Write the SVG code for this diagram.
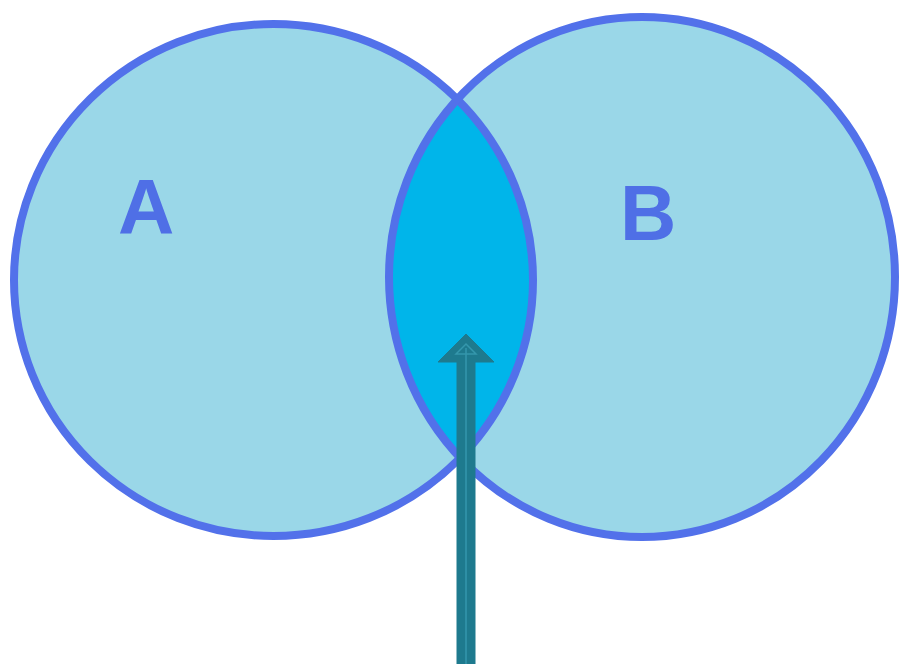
<svg xmlns="http://www.w3.org/2000/svg" width="899" height="664" viewBox="0 0 899 664">
<style>
.fill{fill:#9AD7E8;stroke:none}
.ring{fill:none;stroke:#5271EA;stroke-width:8}
.lbl{font-family:"Liberation Sans",Arial,sans-serif;font-weight:bold;font-size:78px;fill:#4F6FE6}
</style>
<defs>
<clipPath id="clipA"><ellipse cx="273.5" cy="280" rx="259.5" ry="256"/></clipPath>
</defs>
<rect width="899" height="664" fill="#ffffff"/>
<g id="nodeA">
<ellipse class="fill" cx="273.5" cy="280" rx="259.5" ry="256"/>
</g>
<g id="nodeB">
<ellipse class="fill" cx="642" cy="277" rx="253" ry="260"/>
</g>
<g id="intersection">
<ellipse cx="642" cy="277" rx="253" ry="260" fill="#00B5EA" clip-path="url(#clipA)"/>
</g>
<g id="rings">
<ellipse class="ring" cx="273.5" cy="280" rx="259.5" ry="256"/>
<ellipse class="ring" cx="642" cy="277" rx="253" ry="260"/>
</g>
<text class="lbl" x="118" y="234">A</text>
<text class="lbl" x="620" y="240">B</text>
<g id="connectors">
<polygon points="466,334 494,362 475,362 475,664 457,664 457,362 438,362" fill="#1E7A8E" stroke="#1E7A8E" stroke-width="1"/>
<polyline points="466,664 466,348" fill="none" stroke="#3597AC" stroke-width="1.5"/>
<polygon points="466,344 476,354 456,354" fill="none" stroke="#3597AC" stroke-width="1.5"/>
</g>
</svg>
